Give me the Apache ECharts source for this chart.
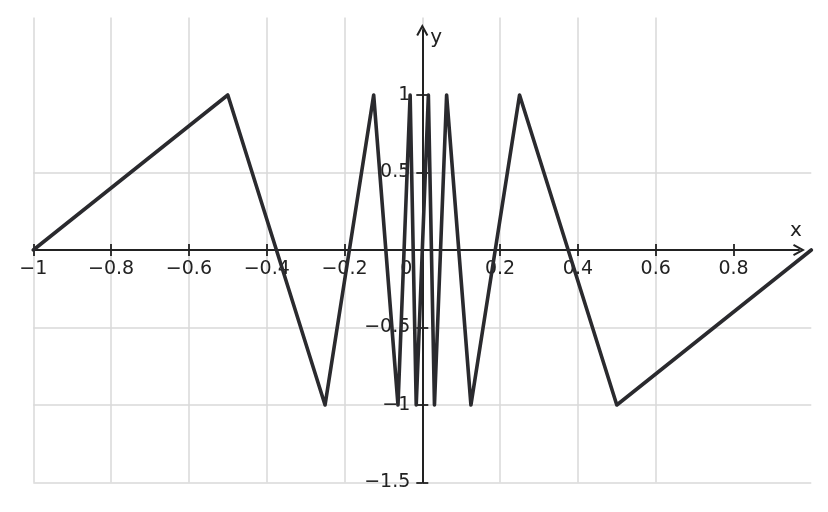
<!DOCTYPE html>
<html>
<head>
<meta charset="utf-8">
<script src="https://cdn.jsdelivr.net/npm/echarts@6/dist/echarts.min.js"></script>
<style>
  html, body { margin: 0; padding: 0; background: #ffffff; }
  #chart { width: 828px; height: 512px; }
</style>
</head>
<body>
<div id="chart"></div>
<script>
// ---- data ----
const xValues = [-1, -0.5, -0.25, -0.125, -0.0625, -0.03125, -0.015625, 0, 0.015625, 0.03125, 0.0625, 0.125, 0.25, 0.5, 1];
const yValues = [0, 1, -1, 1, -1, 1, -1, 0, 1, -1, 1, -1, 1, -1, 0];
const xTicks = [-1, -0.8, -0.6, -0.4, -0.2, 0, 0.2, 0.4, 0.6, 0.8];
const yTicks = [-1.5, -1, -0.5, 0.5, 1];
const xName = 'x';
const yName = 'y';

// ---- layout / style ----
const FONT = 'DejaVu Sans';
const INK = '#222222';
const LABEL_SIZE = 19;
const GRID_LEFT = 33.3, GRID_TOP = 17.5, GRID_W = 778, GRID_H = 465;
const X_MIN = -1, X_MAX = 1, Y_MIN = -1.5, Y_MAX = 1.5;
const PX_X = GRID_W / (X_MAX - X_MIN);
const PX_Y = GRID_H / (Y_MAX - Y_MIN);
const X_LINE_END = 799;   // pixel where x axis line stops (arrow centre)
const Y_LINE_END = 30;    // pixel where y axis line stops (arrow centre)
const ARROW = 'path://M6,0L12,11L10.24,11.96L6,4.18L1.76,11.96L0,11Z';

const axisW = X_LINE_END - GRID_LEFT;
const axisH = GRID_TOP + GRID_H - Y_LINE_END;
const xMaxAxis = X_MIN + axisW / PX_X;
const yMaxAxis = Y_MIN + axisH / PX_Y;
// shift the label-carrying axes of grid 0 onto the origin
const xAxisShift = -(0 - Y_MIN) * PX_Y;
const yAxisShift = -(0 - X_MIN) * PX_X;

const fmt = v => String(v).replace('-', '\u2212');

const chart = echarts.init(document.getElementById('chart'), null, { renderer: 'canvas' });
chart.setOption({
  animation: false,
  backgroundColor: '#ffffff',
  grid: [
    { left: GRID_LEFT, top: GRID_TOP, width: GRID_W, height: GRID_H, containLabel: false, outerBoundsMode: 'none' },
    { left: GRID_LEFT, top: Y_LINE_END, width: axisW, height: axisH, containLabel: false, outerBoundsMode: 'none' }
  ],
  xAxis: [
    {
      gridIndex: 0, type: 'value', min: X_MIN, max: X_MAX, interval: 0.2,
      position: 'bottom', offset: xAxisShift,
      axisLine: { show: false, onZero: false },
      axisTick: { show: true, inside: false, length: 6, customValues: xTicks,
                  lineStyle: { color: INK, width: 1.8 } },
      axisLabel: { show: true, customValues: xTicks, margin: 10, fontSize: LABEL_SIZE,
                   fontFamily: FONT, color: INK,
                   formatter: v => v === 0 ? '{z|0}' : fmt(v),
                   rich: { z: { padding: [0, 32, 0, 0], fontSize: LABEL_SIZE, fontFamily: FONT, color: INK } } },
      splitLine: { show: true, showMaxLine: false, lineStyle: { color: '#d9d9d9', width: 1.5 } }
    },
    {
      gridIndex: 1, type: 'value', min: X_MIN, max: xMaxAxis,
      axisLine: { show: true, onZero: true, symbol: ['none', ARROW], symbolSize: [12, 12],
                  lineStyle: { color: INK, width: 2 } },
      axisTick: { show: true, inside: true, length: 6, customValues: xTicks,
                  lineStyle: { color: INK, width: 1.8 } },
      axisLabel: { show: false },
      splitLine: { show: false },
      name: xName, nameLocation: 'end', nameGap: -3,
      nameTextStyle: { fontSize: 20, fontFamily: FONT, color: INK, align: 'center',
                       verticalAlign: 'bottom', lineHeight: 20, padding: [0, 0, 9, 0] }
    }
  ],
  yAxis: [
    {
      gridIndex: 0, type: 'value', min: Y_MIN, max: Y_MAX, interval: 0.5,
      position: 'left', offset: yAxisShift,
      axisLine: { show: false, onZero: false },
      axisTick: { show: true, inside: false, length: 6, customValues: yTicks,
                  lineStyle: { color: INK, width: 1.8 } },
      axisLabel: { show: true, customValues: yTicks, margin: 12, fontSize: LABEL_SIZE,
                   fontFamily: FONT, color: INK, formatter: v => fmt(v) },
      splitLine: { show: true, showMaxLine: false, lineStyle: { color: '#d9d9d9', width: 1.5 } }
    },
    {
      gridIndex: 1, type: 'value', min: Y_MIN, max: yMaxAxis,
      axisLine: { show: true, onZero: true, symbol: ['none', ARROW], symbolSize: [12, 12],
                  lineStyle: { color: INK, width: 2 } },
      axisTick: { show: true, inside: true, length: 6, customValues: yTicks,
                  lineStyle: { color: INK, width: 1.8 } },
      axisLabel: { show: false },
      splitLine: { show: false },
      name: yName, nameLocation: 'end', nameGap: -8,
      nameTextStyle: { fontSize: 20, fontFamily: FONT, color: INK, align: 'left',
                       verticalAlign: 'middle', padding: [0, 0, 0, 8] }
    }
  ],
  series: [
    {
      type: 'line', xAxisIndex: 0, yAxisIndex: 0,
      data: xValues.map((x, i) => [x, yValues[i]]),
      symbol: 'none', clip: false, z: 5,
      lineStyle: { color: '#2a2a2e', width: 3.6, join: 'round', cap: 'round' }
    }
  ]
});
</script>
</body>
</html>
